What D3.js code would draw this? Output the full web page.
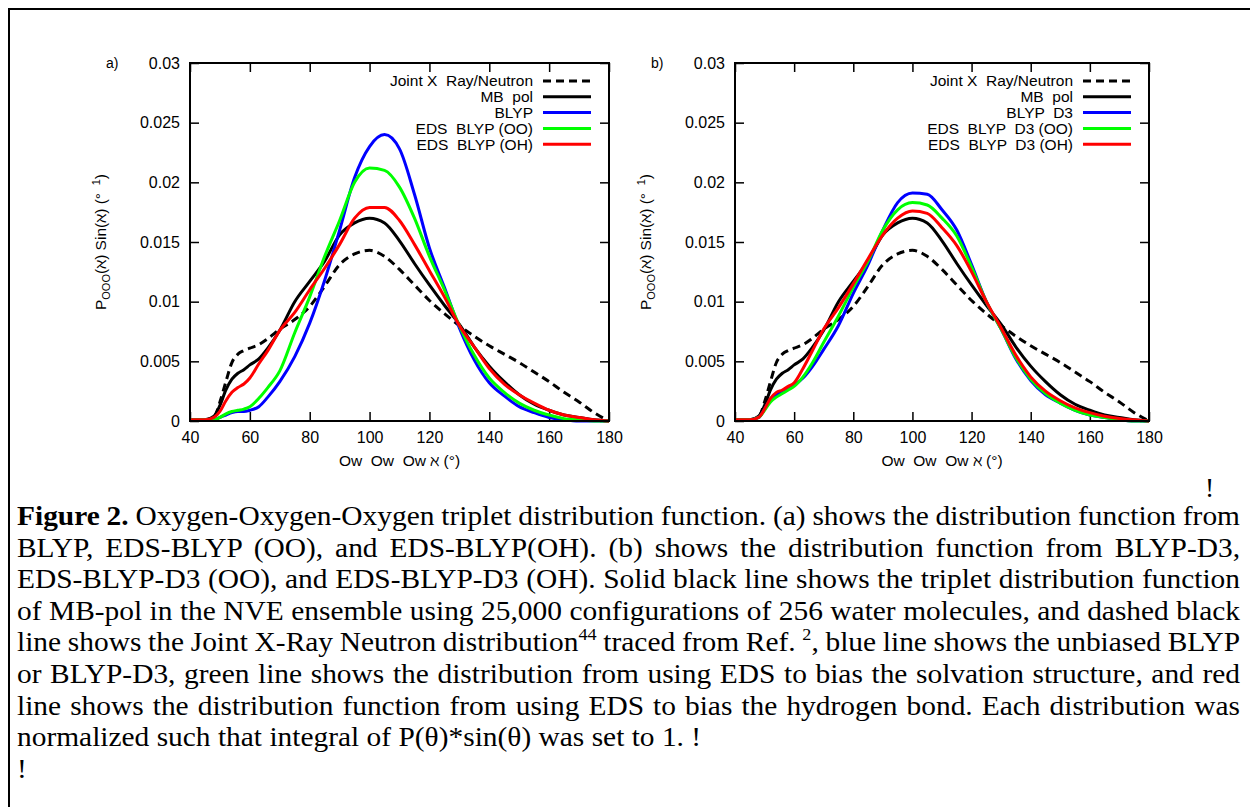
<!DOCTYPE html>
<html>
<head>
<meta charset="utf-8">
<script src="https://cdn.jsdelivr.net/npm/d3@7"></script>
<style>
body { margin: 0; background: #fff; }
svg { display: block; }
text { white-space: pre; }
</style>
</head>
<body>
<script>
// angle grid (degrees) shared by every curve
var angles = [40, 45, 48, 50, 52, 54, 56, 58, 60, 63, 66, 70, 75, 80, 85, 90, 95, 100, 105,
    110, 115, 120, 125, 130, 135, 140, 145, 150, 155, 160, 165, 170, 175, 180];

// values
var xrayNeutron = [0.0001, 0.0001, 0.0003, 0.0016, 0.0033, 0.0049, 0.0056, 0.0059, 0.0061, 0.0064, 0.0069,
    0.0077, 0.0085, 0.0096, 0.0113, 0.0131, 0.0140, 0.0143, 0.0138, 0.0127, 0.0114, 0.0101, 0.0090,
    0.0080, 0.0071, 0.0063, 0.0056, 0.0049, 0.0041, 0.0033, 0.0024, 0.0016, 0.0007, 0.0000];
var mbPol = [0.0001, 0.0001, 0.0004, 0.0013, 0.0026, 0.0035, 0.0040, 0.0043, 0.0047, 0.0052, 0.0061,
    0.0076, 0.0100, 0.0117, 0.0134, 0.0156, 0.0166, 0.0170, 0.0166, 0.0151, 0.0132, 0.0114, 0.0097,
    0.0081, 0.0062, 0.0046, 0.0033, 0.0022, 0.0014, 0.0009, 0.0005, 0.0003, 0.0001, 0.0000];
var blyp = [0.0001, 0.0001, 0.0001, 0.0003, 0.0005, 0.0007, 0.0008, 0.0008, 0.0009, 0.0012, 0.0020,
    0.0033, 0.0054, 0.0082, 0.0118, 0.0160, 0.0204, 0.0230, 0.0240, 0.0228, 0.0190, 0.0145, 0.0112,
    0.0078, 0.0051, 0.0032, 0.0021, 0.0012, 0.0007, 0.0003, 0.0001, 0.0000, 0.0000, 0.0000];
var edsBlypOO = [0.0001, 0.0001, 0.0001, 0.0003, 0.0006, 0.0008, 0.0009, 0.0010, 0.0012, 0.0019, 0.0028,
    0.0042, 0.0074, 0.0104, 0.0138, 0.0168, 0.0200, 0.0212, 0.0210, 0.0196, 0.0170, 0.0138, 0.0110,
    0.0080, 0.0055, 0.0036, 0.0024, 0.0015, 0.0009, 0.0005, 0.0002, 0.0001, 0.0000, 0.0000];
var edsBlypOH = [0.0001, 0.0001, 0.0003, 0.0008, 0.0017, 0.0024, 0.0028, 0.0031, 0.0036, 0.0048, 0.0059,
    0.0076, 0.0091, 0.0110, 0.0128, 0.0148, 0.0170, 0.0179, 0.0179, 0.0168, 0.0148, 0.0126, 0.0104,
    0.0080, 0.0062, 0.0044, 0.0031, 0.0022, 0.0015, 0.0009, 0.0005, 0.0003, 0.0001, 0.0000];
var blypD3 = [0.0001, 0.0001, 0.0003, 0.0010, 0.0018, 0.0022, 0.0025, 0.0027, 0.0030, 0.0036, 0.0045,
    0.0060, 0.0080, 0.0107, 0.0131, 0.0160, 0.0183, 0.0191, 0.0190, 0.0177, 0.0160, 0.0131, 0.0100,
    0.0077, 0.0052, 0.0034, 0.0022, 0.0015, 0.0009, 0.0005, 0.0003, 0.0001, 0.0000, 0.0000];
var edsBlypD3OO = [0.0001, 0.0001, 0.0003, 0.0009, 0.0016, 0.0020, 0.0023, 0.0026, 0.0029, 0.0037, 0.0048,
    0.0066, 0.0088, 0.0112, 0.0134, 0.0160, 0.0177, 0.0183, 0.0181, 0.0170, 0.0155, 0.0129, 0.0100,
    0.0077, 0.0053, 0.0035, 0.0023, 0.0015, 0.0009, 0.0005, 0.0003, 0.0001, 0.0000, 0.0000];
var edsBlypD3OH = [0.0001, 0.0001, 0.0003, 0.0010, 0.0019, 0.0024, 0.0026, 0.0029, 0.0032, 0.0044, 0.0058,
    0.0077, 0.0095, 0.0115, 0.0136, 0.0156, 0.0170, 0.0176, 0.0174, 0.0162, 0.0147, 0.0125, 0.0100,
    0.0078, 0.0055, 0.0037, 0.0025, 0.0017, 0.0011, 0.0007, 0.0004, 0.0002, 0.0001, 0.0000];

// legend names
var namesA = ["Joint X  Ray/Neutron", "MB  pol", "BLYP", "EDS  BLYP (OO)", "EDS  BLYP (OH)"];
var namesB = ["Joint X  Ray/Neutron", "MB  pol", "BLYP  D3", "EDS  BLYP  D3 (OO)", "EDS  BLYP  D3 (OH)"];

// ticks
var xTicks = [40, 60, 80, 100, 120, 140, 160, 180];
var yTicks = [0, 0.005, 0.01, 0.015, 0.02, 0.025, 0.03];
var yTickLabels = ["0", "0.005", "0.01", "0.015", "0.02", "0.025", "0.03"];

// caption, ** = bold, ^{} = superscript
var captionLines = [
    "**Figure 2.** Oxygen-Oxygen-Oxygen triplet distribution function. (a) shows the distribution function from",
    "BLYP, EDS-BLYP (OO), and EDS-BLYP(OH). (b) shows the distribution function from BLYP-D3,",
    "EDS-BLYP-D3 (OO), and EDS-BLYP-D3 (OH). Solid black line shows the triplet distribution function",
    "of MB-pol in the NVE ensemble using 25,000 configurations of 256 water molecules, and dashed black",
    "line shows the Joint X-Ray Neutron distribution^{44} traced from Ref. ^{2}, blue line shows the unbiased BLYP",
    "or BLYP-D3, green line shows the distribution from using EDS to bias the solvation structure, and red",
    "line shows the distribution function from using EDS to bias the hydrogen bond. Each distribution was",
    "normalized such that integral of P(θ)*sin(θ) was set to 1. !",
    "!"
];

var colors = ["#000", "#000", "#0000ff", "#00ff00", "#ff0000"];
var dashes = ["8,5", null, null, null, null];

var width = 1250, height = 807;
var sansFont = "'Liberation Sans', Arial, Helvetica, sans-serif";
var serifFont = "'Liberation Serif', 'Times New Roman', serif";
var captionStretch = 1.07;

var svg = d3.select("body").append("svg")
    .attr("width", width)
    .attr("height", height);

// outer frame of the figure
svg.append("rect")
    .attr("x", 9).attr("y", 9)
    .attr("width", 1300).attr("height", 900)
    .attr("fill", "none")
    .attr("stroke", "#000")
    .attr("stroke-width", 2);

var panels = [
    {label: "a)", left: 190, right: 609, series: [xrayNeutron, mbPol, blyp, edsBlypOO, edsBlypOH], names: namesA},
    {label: "b)", left: 735, right: 1149, series: [xrayNeutron, mbPol, blypD3, edsBlypD3OO, edsBlypD3OH], names: namesB}
];

panels.forEach(drawPanel);

function styleAxis(g, showText) {
    g.attr("font-family", sansFont).attr("font-size", 16);
    g.select(".domain").remove();
    g.selectAll(".tick line").attr("stroke", "#000").attr("stroke-width", 1.5);
    g.selectAll(".tick text").attr("fill", "#000");
    if (!showText) g.selectAll(".tick text").remove();
}

function drawPanel(p) {
    var top = 63, bottom = 421;
    var x = d3.scaleLinear().domain([40, 180]).range([p.left, p.right]);
    var y = d3.scaleLinear().domain([0, 0.03]).range([bottom, top]);

    // axes with inward ticks on all four sides
    svg.append("g").attr("transform", "translate(0," + bottom + ")")
        .call(d3.axisBottom(x).tickValues(xTicks).tickSize(-9).tickPadding(11).tickFormat(d3.format("d")))
        .call(styleAxis, true);
    svg.append("g").attr("transform", "translate(0," + top + ")")
        .call(d3.axisTop(x).tickValues(xTicks).tickSize(-9))
        .call(styleAxis, false);
    svg.append("g").attr("transform", "translate(" + p.left + ",0)")
        .call(d3.axisLeft(y).tickValues(yTicks).tickSize(-9).tickPadding(10)
            .tickFormat(function(d, i) { return yTickLabels[i]; }))
        .call(styleAxis, true);
    svg.append("g").attr("transform", "translate(" + p.right + ",0)")
        .call(d3.axisRight(y).tickValues(yTicks).tickSize(-9))
        .call(styleAxis, false);

    // curves
    var line = d3.line()
        .x(function(d) { return x(d[0]); })
        .y(function(d) { return y(d[1]); })
        .curve(d3.curveMonotoneX);

    p.series.forEach(function(vals, i) {
        var pts = angles.map(function(a, j) { return [a, vals[j]]; });
        svg.append("path")
            .datum(pts)
            .attr("d", line)
            .attr("fill", "none")
            .attr("stroke", colors[i])
            .attr("stroke-width", 3)
            .attr("stroke-linejoin", "round")
            .attr("stroke-dasharray", dashes[i]);
    });

    // plot frame
    svg.append("rect")
        .attr("x", p.left).attr("y", top)
        .attr("width", p.right - p.left).attr("height", bottom - top)
        .attr("fill", "none")
        .attr("stroke", "#000")
        .attr("stroke-width", 2);

    // legend
    p.names.forEach(function(name, i) {
        var ly = 81 + 15.8 * i;
        svg.append("text")
            .attr("x", p.right - 76).attr("y", ly)
            .attr("dy", "0.35em")
            .attr("text-anchor", "end")
            .attr("font-family", sansFont)
            .attr("font-size", 15.5)
            .text(name);
        svg.append("line")
            .attr("x1", p.right - 66).attr("x2", p.right - 18)
            .attr("y1", ly).attr("y2", ly)
            .attr("stroke", colors[i])
            .attr("stroke-width", 3)
            .attr("stroke-dasharray", dashes[i]);
    });

    // panel letter
    svg.append("text")
        .attr("x", p.left - 84).attr("y", top + 5)
        .attr("font-family", sansFont).attr("font-size", 14)
        .text(p.label);

    // x title
    svg.append("text")
        .attr("x", (p.left + p.right) / 2).attr("y", 466)
        .attr("text-anchor", "middle")
        .attr("font-family", sansFont).attr("font-size", 15.5)
        .text("Ow  Ow  Ow ℵ (°)");

    // y title
    var yt = svg.append("text")
        .attr("transform", "translate(" + (p.left - 84) + "," + ((top + bottom) / 2) + ") rotate(-90)")
        .attr("text-anchor", "middle")
        .attr("font-family", sansFont).attr("font-size", 15.5);
    yt.append("tspan").text("P");
    yt.append("tspan").attr("font-size", 11).attr("dy", 4).text("OOO");
    yt.append("tspan").attr("dy", -4).text("(ℵ) Sin(ℵ) (°\u2002");
    yt.append("tspan").attr("font-size", 11).attr("dy", -6).text("1");
    yt.append("tspan").attr("dy", 6).text(")");
}

// caption, justified line by line
var justified = [true, true, true, true, true, true, true, false, false];
captionLines.forEach(function(str, i) {
    var t = svg.append("text")
        .attr("transform", "translate(17," + (525 + 31.6 * i) + ") scale(" + captionStretch + ",1)")
        .attr("font-family", serifFont)
        .attr("font-size", 27.5)
        .attr("fill", "#000");
    var parts = str.split(/(\*\*[^*]+\*\*|\^\{[^}]+\})/);
    var raised = false;
    var plain = "";
    parts.forEach(function(part) {
        if (part === "") return;
        if (part.indexOf("**") === 0) {
            var s = part.slice(2, -2);
            t.append("tspan").attr("font-weight", "bold").text(s);
            plain += s;
        } else if (part.indexOf("^{") === 0) {
            var s2 = part.slice(2, -1);
            t.append("tspan").attr("font-size", 17).attr("dy", -11).text(s2);
            raised = true;
            plain += s2;
        } else {
            var sp = t.append("tspan").text(part);
            if (raised) { sp.attr("dy", 11); raised = false; }
            plain += part;
        }
    });
    if (justified[i]) {
        var natural = t.node().getComputedTextLength();
        var gaps = plain.split(" ").length - 1;
        t.style("word-spacing", (((1240 - 17) / captionStretch - natural) / gaps) + "px");
    }
});

// stray mark above the first caption line
svg.append("text")
    .attr("x", 1205).attr("y", 497)
    .attr("font-family", serifFont)
    .attr("font-size", 27.5)
    .text("!");
</script>
</body>
</html>
